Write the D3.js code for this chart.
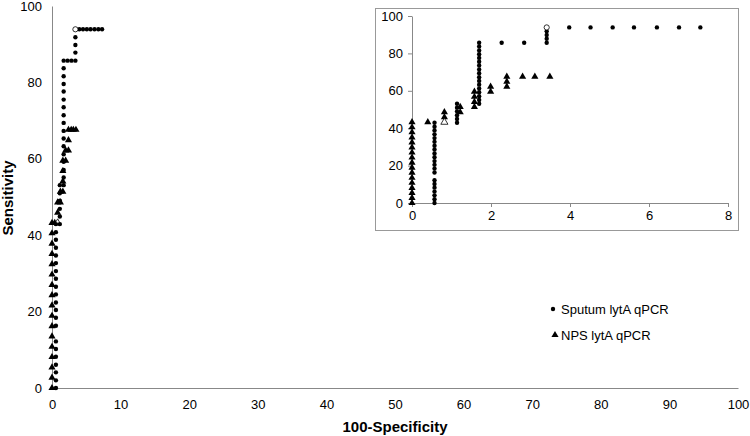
<!DOCTYPE html>
<html>
<head>
<meta charset="utf-8">
<script src="https://cdn.jsdelivr.net/npm/d3@7"></script>
<style>
  body { margin: 0; background: #fff; }
  text { font-family: "Liberation Sans", Arial, sans-serif; fill: #000; }
</style>
</head>
<body>
<svg id="chart" width="750" height="436"></svg>
<script>
// Sputum lytA qPCR ROC points [100-specificity, sensitivity]
var sputum = [
  [0.57,0],[0.57,2.0],[0.57,4.1],[0.57,6.1],[0.57,8.2],[0.57,10.2],[0.57,12.2],
  [0.57,16.3],[0.57,18.4],[0.57,20.4],[0.57,22.4],[0.57,24.5],[0.57,26.5],[0.57,28.6],
  [0.57,30.6],[0.57,32.7],[0.57,34.7],[0.57,36.7],[0.57,38.8],[0.57,40.8],[0.57,42.9],
  [1.14,42.9],[1.14,44.9],[1.14,46.9],[1.14,49.0],[1.14,51.0],[1.14,53.1],
  [1.70,53.1],[1.70,55.1],[1.70,57.1],[1.70,59.2],[1.70,61.2],[1.70,63.3],[1.70,65.3],
  [1.70,67.3],[1.70,69.4],[1.70,71.4],[1.70,73.5],[1.70,75.5],[1.70,77.6],[1.70,79.6],
  [1.70,81.6],[1.70,83.7],[1.70,85.7],
  [2.27,85.7],[2.84,85.7],
  [3.41,85.7],[3.41,87.8],[3.41,89.8],[3.41,91.8],
  [3.98,93.9],[4.52,93.9],[5.08,93.9],[5.62,93.9],[6.20,93.9],[6.76,93.9],[7.30,93.9]
];
var sputumCutoff = [[3.41, 93.9]];

// NPS lytA qPCR ROC points
var nps = [
  [0,0],[0,2.7],[0,5.4],[0,8.1],[0,10.8],[0,13.5],[0,16.2],[0,18.9],[0,21.6],
  [0,24.3],[0,27.0],[0,29.7],[0,32.4],[0,35.1],[0,37.8],[0,40.5],[0,43.2],
  [0.40,43.2],
  [0.82,45.9],[0.82,48.6],
  [1.22,48.6],[1.22,51.4],
  [1.58,51.4],[1.58,54.1],[1.58,56.8],[1.58,59.5],
  [1.99,59.5],[1.99,62.2],
  [2.40,62.2],[2.40,64.9],[2.40,67.6],
  [2.80,67.6],[3.11,67.6],[3.49,67.6]
];
var npsCutoff = [[0.82, 43.2]];

var mainXTicks = d3.range(0, 101, 10);
var mainYTicks = d3.range(0, 101, 20);
var insetXTicks = [0, 2, 4, 6, 8];
var insetYTicks = [0, 20, 40, 60, 80, 100];

var svg = d3.select("#chart");
var axisColor = "#888";
var tri = d3.symbol().type(d3.symbolTriangle).size(22);

// ---- main chart ----
var x = d3.scaleLinear().domain([0, 100]).range([52, 738]);
var y = d3.scaleLinear().domain([0, 100]).range([388, 6]);

var xAxis = svg.append("g")
  .attr("transform", "translate(0," + y(0) + ")")
  .call(d3.axisBottom(x).tickValues(mainXTicks).tickSize(0).tickPadding(12));
var yAxis = svg.append("g")
  .attr("transform", "translate(" + x(0) + ",0)")
  .call(d3.axisLeft(y).tickValues(mainYTicks).tickSize(0).tickPadding(10));

[xAxis, yAxis].forEach(function(g) {
  g.select(".domain").attr("stroke", axisColor);
  g.selectAll("text").style("font-size", "13px").attr("fill", "#000");
});

svg.append("text")
  .attr("x", 395).attr("y", 432)
  .attr("text-anchor", "middle")
  .style("font-size", "15px").style("font-weight", "bold")
  .text("100-Specificity");

svg.append("text")
  .attr("transform", "translate(13,198) rotate(-90)")
  .attr("text-anchor", "middle")
  .style("font-size", "15px").style("font-weight", "bold")
  .text("Sensitivity");

function drawSeries(g, xs, ys) {
  g.selectAll(".nps").data(nps).enter().append("path")
    .attr("d", tri)
    .attr("transform", d => "translate(" + xs(d[0]) + "," + ys(d[1]) + ")")
    .attr("fill", "#000");
  g.selectAll(".npsc").data(npsCutoff).enter().append("path")
    .attr("d", tri)
    .attr("transform", d => "translate(" + xs(d[0]) + "," + ys(d[1]) + ")")
    .attr("fill", "#fff").attr("stroke", "#000").attr("stroke-width", 0.8);
  g.selectAll(".sp").data(sputum).enter().append("circle")
    .attr("cx", d => xs(d[0])).attr("cy", d => ys(d[1]))
    .attr("r", 2.2).attr("fill", "#000");
  g.selectAll(".spc").data(sputumCutoff).enter().append("circle")
    .attr("cx", d => xs(d[0])).attr("cy", d => ys(d[1]))
    .attr("r", 2.6).attr("fill", "#fff").attr("stroke", "#000").attr("stroke-width", 0.8);
}

drawSeries(svg.append("g"), x, y);

// ---- legend ----
var legend = svg.append("g");
legend.append("circle").attr("cx", 553).attr("cy", 309).attr("r", 2.2).attr("fill", "#000");
legend.append("text").attr("x", 561).attr("y", 309).attr("dy", "0.35em")
  .style("font-size", "13px").text("Sputum lytA qPCR");
legend.append("path").attr("d", tri).attr("transform", "translate(555,335)").attr("fill", "#000");
legend.append("text").attr("x", 561).attr("y", 335).attr("dy", "0.35em")
  .style("font-size", "13px").text("NPS lytA qPCR");

// ---- inset ----
var inset = svg.append("g");
inset.append("rect")
  .attr("x", 375.5).attr("y", 8.5).attr("width", 363).attr("height", 222)
  .attr("fill", "#fff").attr("stroke", "#999");

var xi = d3.scaleLinear().domain([0, 8]).range([412, 728]);
var yi = d3.scaleLinear().domain([0, 100]).range([203, 16]);

var xiAxis = inset.append("g")
  .attr("transform", "translate(0," + yi(0) + ")")
  .call(d3.axisBottom(xi).tickValues(insetXTicks).tickSize(4).tickSizeOuter(0).tickPadding(4));
var yiAxis = inset.append("g")
  .attr("transform", "translate(" + xi(0) + ",0)")
  .call(d3.axisLeft(yi).tickValues(insetYTicks).tickSize(4).tickSizeOuter(0).tickPadding(5));

[xiAxis, yiAxis].forEach(function(g) {
  g.select(".domain").attr("stroke", axisColor);
  g.selectAll(".tick line").attr("stroke", axisColor);
  g.selectAll("text").style("font-size", "13px").attr("fill", "#000");
});

drawSeries(inset.append("g"), xi, yi);
</script>
</body>
</html>
